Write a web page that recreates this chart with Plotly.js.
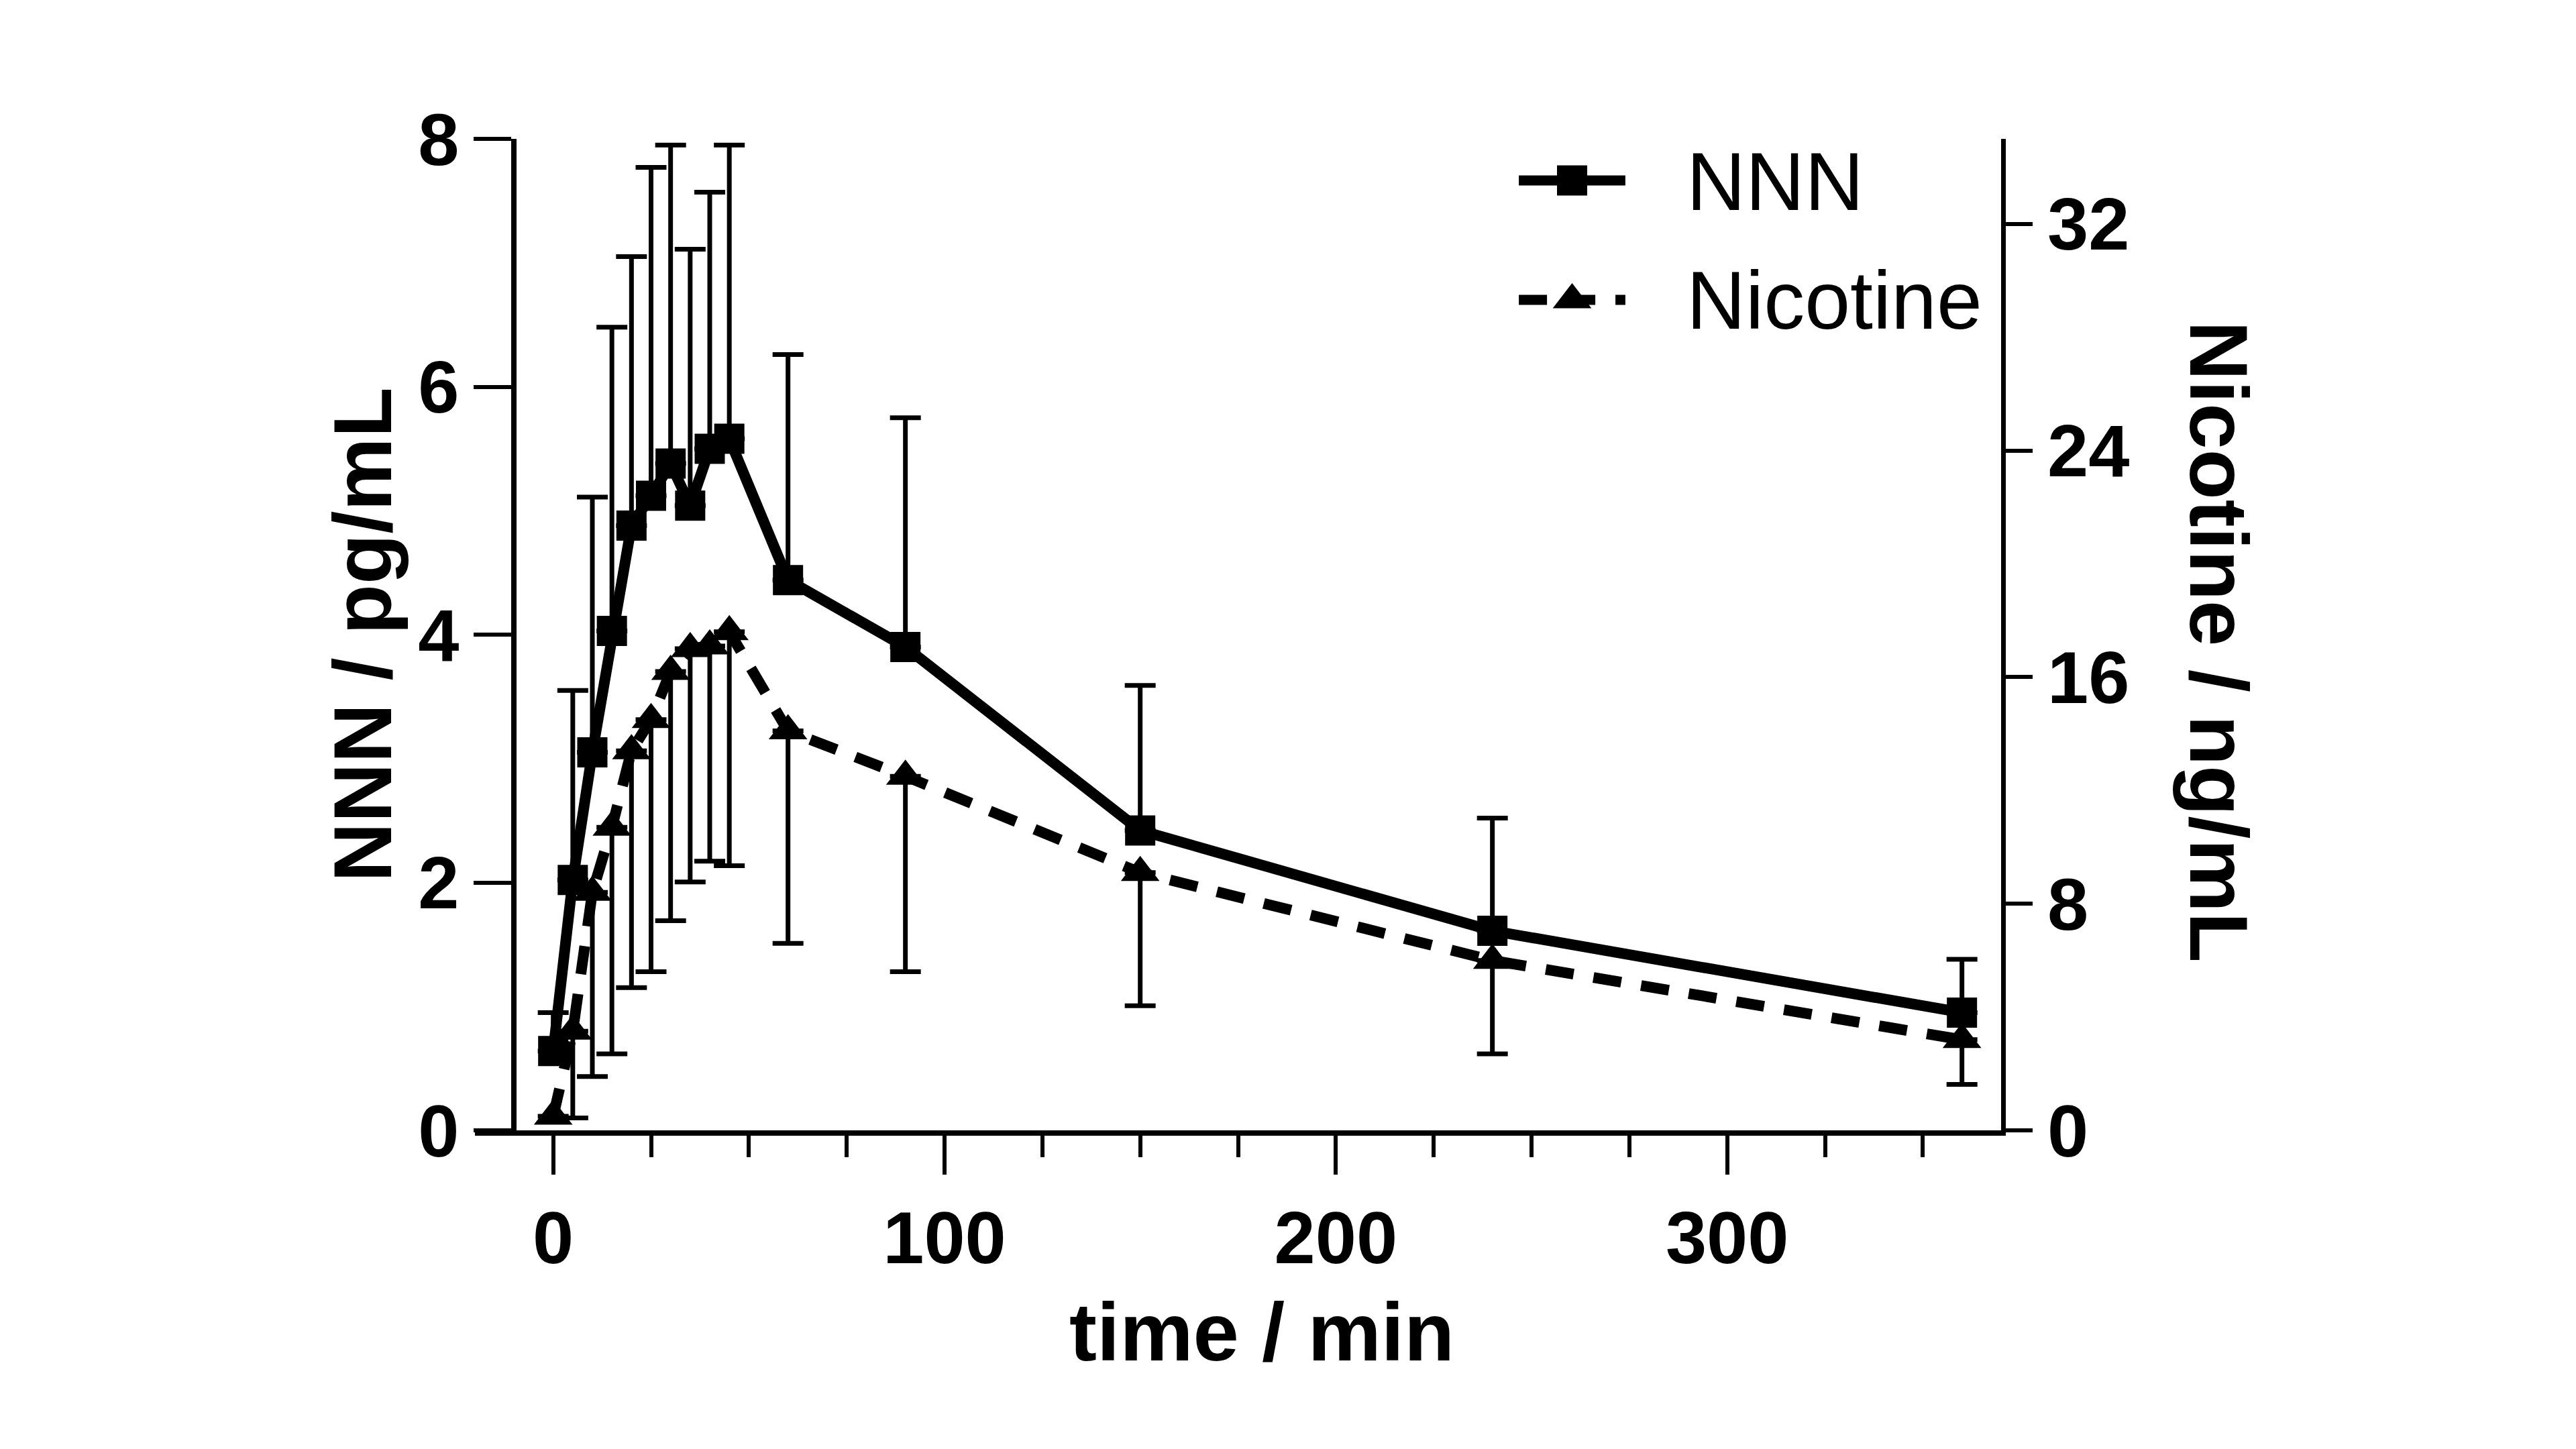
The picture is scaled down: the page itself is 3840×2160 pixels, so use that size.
<!DOCTYPE html>
<html>
<head>
<meta charset="utf-8">
<script src="https://cdn.plot.ly/plotly-3.0.1.min.js"></script>
<style>
  html, body { margin: 0; padding: 0; background: #fff; }
  #chart { width: 3840px; height: 2160px; }
</style>
</head>
<body>
<div id="chart"></div>
<script>
// sampling times, min
const time = [0, 5, 10, 15, 20, 25, 30, 35, 40, 45, 60, 90, 150, 240, 360];
// NNN in pg/mL: mean and upper SD
const nnnMean = [0.64, 2.02, 3.05, 4.03, 4.88, 5.12, 5.38, 5.04, 5.50, 5.58, 4.44, 3.90, 2.42, 1.61, 0.95];
const nnnSD = [0.31, 1.53, 2.06, 2.45, 2.17, 2.65, 2.57, 2.07, 2.07, 2.37, 1.82, 1.85, 1.17, 0.91, 0.43];
// nicotine in ng/mL: mean and lower SD
const nicMean = [0.5, 3.5, 8.4, 10.7, 13.4, 14.5, 16.2, 17.0, 17.1, 17.6, 14.1, 12.5, 9.1, 6.0, 3.2];
const nicSD = [0, 3.06, 6.5, 8.0, 8.36, 8.9, 8.8, 8.23, 7.6, 8.26, 7.5, 6.9, 4.7, 3.3, 1.58];

const seriesNames = ['NNN', 'Nicotine'];
const xTitle = 'time / min';
const y1Title = 'NNN / pg/mL';
const y2Title = 'Nicotine / ng/mL';

const FONT = 'Liberation Sans, Arial, sans-serif';
const BLACK = '#000';
const nicDash = '42px,30px';

const nnn = {
  x: time, y: nnnMean, name: seriesNames[0],
  type: 'scatter', mode: 'lines+markers', cliponaxis: false,
  line: { color: BLACK, width: 16 },
  marker: { symbol: 'square', size: 45, color: BLACK },
  error_y: { type: 'data', symmetric: false, array: nnnSD, arrayminus: nnnSD.map(() => 0),
    color: BLACK, thickness: 7, width: 23 },
  showlegend: false
};

const nic = {
  x: time, y: nicMean, name: seriesNames[1], yaxis: 'y2',
  type: 'scatter', mode: 'lines+markers', cliponaxis: false,
  line: { color: BLACK, width: 16, dash: nicDash },
  marker: { symbol: 'triangle-up', size: 50, color: BLACK },
  error_y: { type: 'data', symmetric: false, array: nicSD.map(() => 0), arrayminus: nicSD,
    color: BLACK, thickness: 7, width: 23 },
  showlegend: false
};

// legend keys, drawn on their own hidden axes (row 0 = NNN, row 1 = Nicotine)
const keyLine = [0, 1];
const keyMid = [0.5];
const legendKeys = [
  { x: keyLine, y: [0, 0], xaxis: 'x2', yaxis: 'y3', mode: 'lines', line: { color: BLACK, width: 15 } },
  { x: keyMid, y: [0], xaxis: 'x2', yaxis: 'y3', mode: 'markers', marker: { symbol: 'square', size: 45, color: BLACK } },
  { x: keyLine, y: [1, 1], xaxis: 'x2', yaxis: 'y3', mode: 'lines', line: { color: BLACK, width: 15, dash: nicDash } },
  { x: keyMid, y: [1], xaxis: 'x2', yaxis: 'y3', mode: 'markers', marker: { symbol: 'triangle-up', size: 50, color: BLACK } }
].map(t => Object.assign({ type: 'scatter', showlegend: false, hoverinfo: 'skip', cliponaxis: false }, t));

const tickFont = { family: FONT, size: 110, color: BLACK, weight: 700 };
const titleFont = { family: FONT, size: 123, color: BLACK, weight: 700 };
const legendFont = { family: FONT, size: 122, color: BLACK };

const layout = {
  width: 3840, height: 2160,
  margin: { l: 708, r: 857, t: 207, b: 475 },
  paper_bgcolor: '#fff', plot_bgcolor: '#fff',
  font: { family: FONT, color: BLACK },
  showlegend: false,
  xaxis: {
    range: [-20, 370], domain: [0, 1],
    showline: true, linewidth: 8, linecolor: BLACK,
    showgrid: false, zeroline: false,
    tickmode: 'linear', tick0: 0, dtick: 100,
    ticks: 'outside', ticklen: 58, tickwidth: 6, tickcolor: BLACK,
    minor: { tick0: 0, dtick: 25, ticks: 'outside', ticklen: 32, tickwidth: 6, tickcolor: BLACK, showgrid: false },
    tickfont: tickFont
  },
  yaxis: {
    range: [0, 8], anchor: 'free', position: 10 / 390,
    showline: true, linewidth: 8, linecolor: BLACK,
    showgrid: false, zeroline: false,
    tickmode: 'linear', tick0: 0, dtick: 2,
    ticks: 'outside', ticklen: 56, tickwidth: 6, tickcolor: BLACK,
    tickfont: tickFont
  },
  yaxis2: {
    range: [0, 35], overlaying: 'y', side: 'right', anchor: 'x',
    showline: true, linewidth: 7, linecolor: BLACK,
    showgrid: false, zeroline: false,
    tickmode: 'linear', tick0: 0, dtick: 8,
    ticks: 'outside', ticklen: 40, tickwidth: 6, tickcolor: BLACK,
    tickfont: tickFont
  },
  xaxis2: { domain: [0.684, 0.7538], range: [0, 1], anchor: 'y3', visible: false, fixedrange: true },
  yaxis3: { domain: [0.8018, 1], range: [1.298, -0.348], anchor: 'x2', visible: false, fixedrange: true },
  annotations: [
    { text: xTitle, xref: 'paper', yref: 'paper', x: 0.5156, y: -0.203,
      xanchor: 'center', yanchor: 'middle', showarrow: false, font: titleFont },
    { text: y1Title, xref: 'paper', yref: 'paper', x: -0.0738, y: 0.5, textangle: -90,
      xanchor: 'center', yanchor: 'middle', showarrow: false, font: titleFont },
    { text: y2Title, xref: 'paper', yref: 'paper', x: 1.1429, y: 0.493, textangle: 90,
      xanchor: 'center', yanchor: 'middle', showarrow: false, font: titleFont },
    { text: seriesNames[0], xref: 'paper', yref: 'paper', x: 0.793, y: 0.957,
      xanchor: 'left', yanchor: 'middle', showarrow: false, font: legendFont },
    { text: seriesNames[1], xref: 'paper', yref: 'paper', x: 0.793, y: 0.837,
      xanchor: 'left', yanchor: 'middle', showarrow: false, font: legendFont }
  ]
};

Plotly.newPlot('chart', [nnn, nic].concat(legendKeys), layout, { displayModeBar: false, staticPlot: true });
</script>
</body>
</html>
